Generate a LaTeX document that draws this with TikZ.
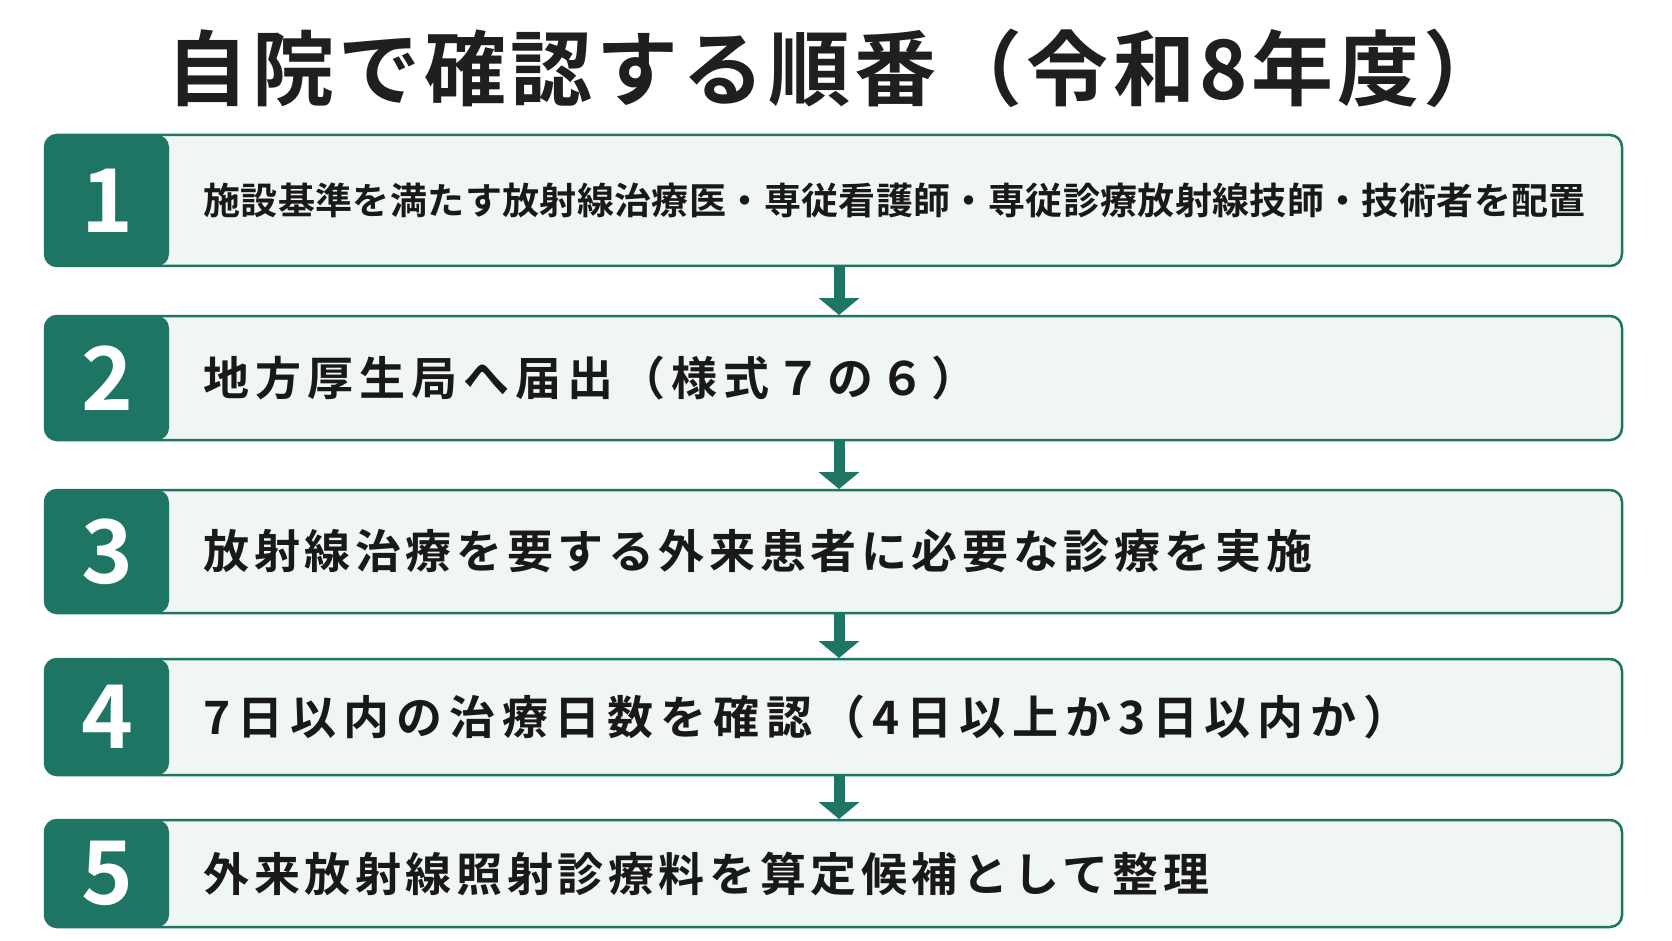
\documentclass[tikz,border=0pt]{standalone}
\usepackage{fontspec}
\setmainfont{Noto Sans CJK JP}[BoldFont={* Bold}]
\usetikzlibrary{arrows.meta}
\definecolor{teal1}{HTML}{1E7564}
\definecolor{fillb}{HTML}{EFF6F4}
\begin{document}
\begin{tikzpicture}[x=1pt,y=-1pt,
 box/.style={draw=teal1,line width=2.5pt,fill=fillb,rounded corners=12pt},
 num/.style={fill=teal1,rounded corners=12pt},
 lab/.style={anchor=west,font=\fontsize{46}{50}\selectfont\bfseries\addfontfeatures{LetterSpace=10},text=black!90},
 nm/.style={font=\fontsize{88}{90}\selectfont\bfseries,text=white},
 arr/.style={teal1,line width=11pt,-{Triangle[length=17pt,width=40pt]}}]
\useasboundingbox (0,0) rectangle (1672,941);
\fill[white] (0,0) rectangle (1672,941);
\node[font=\fontsize{82}{86}\selectfont\bfseries\addfontfeatures{LetterSpace=5},text=black!88] (t) at (836,68) {自院で確認する順番（令和8年度）};
\foreach \i/\a/\b/\txt in {1/135/266/{\fontsize{37}{40}\selectfont\addfontfeatures{LetterSpace=1}施設基準を満たす放射線治療医・専従看護師・専従診療放射線技師・技術者を配置},
 2/316/440/{\addfontfeatures{LetterSpace=13}地方厚生局へ届出（様式７の６）},
 3/490/613/{放射線治療を要する外来患者に必要な診療を実施},
 4/659/775/{\addfontfeatures{LetterSpace=15}7日以内の治療日数を確認（4日以上か3日以内か）},
 5/820/927/{外来放射線照射診療料を算定候補として整理}}{
 \draw[box] (45,\a) rectangle (1622,\b);
 \fill[num] (45,\a) rectangle (169,\b);
 \node[nm] (n\i) at (107,{(\a+\b)/2}) {\i};
 \node[lab] (l\i) at (200,{(\a+\b)/2}) {\txt};
 \coordinate (top\i) at (839,\a);
 \coordinate (bot\i) at (839,\b);
}
\foreach \i/\j in {1/2,2/3,3/4,4/5}{
 \draw[arr] ([yshift=-1pt]bot\i) -- ([yshift=1pt]top\j);
}
\end{tikzpicture}
\end{document}
